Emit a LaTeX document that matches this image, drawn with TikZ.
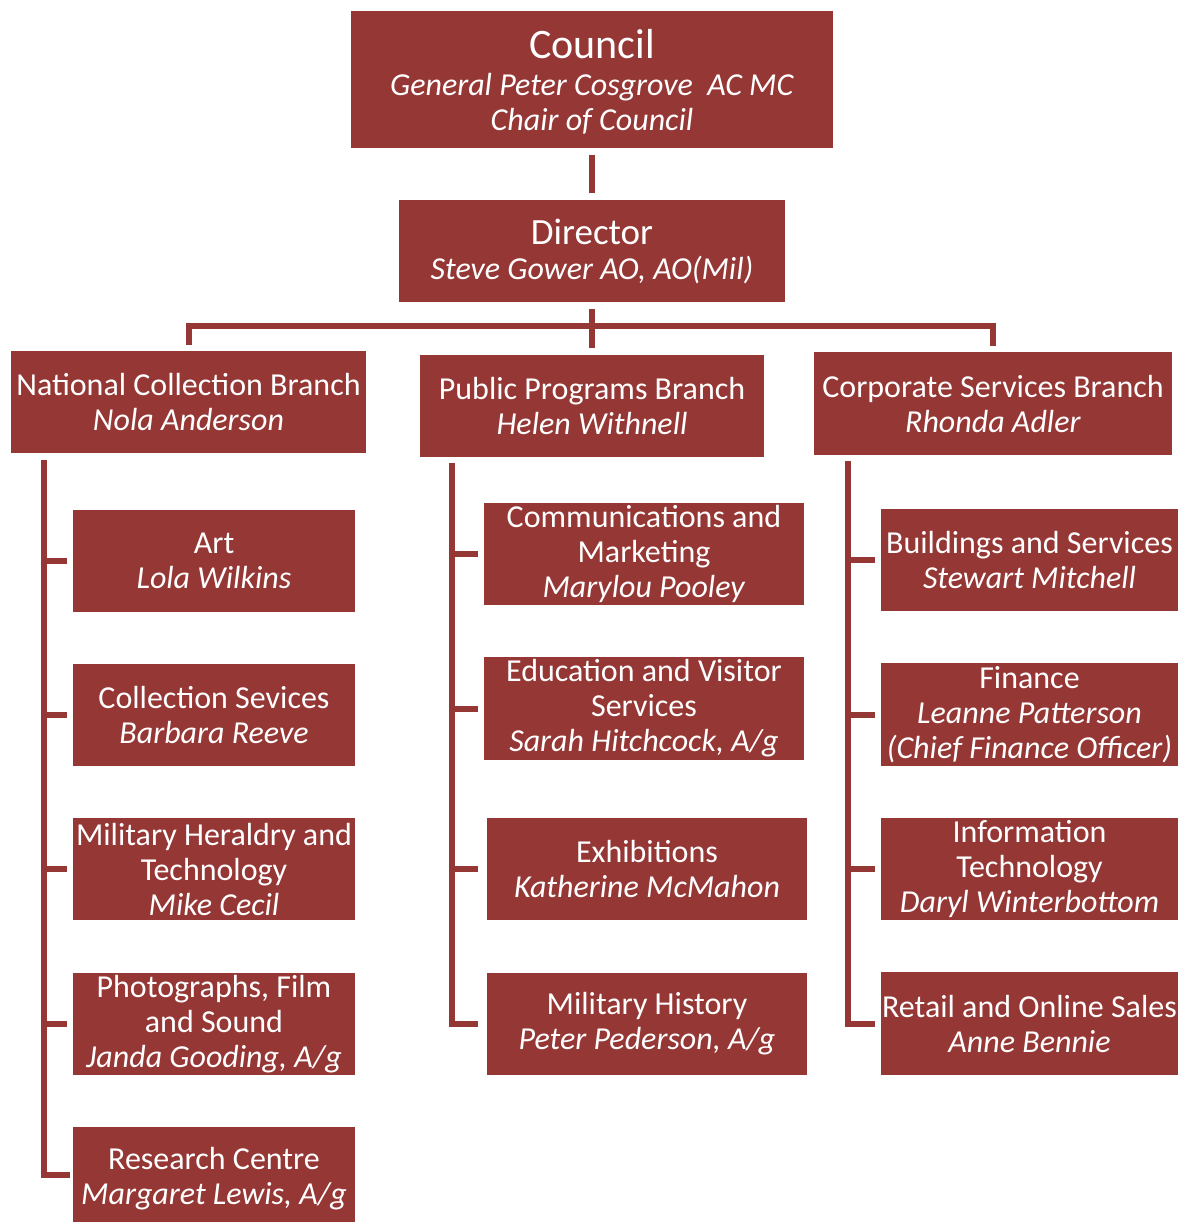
\documentclass[tikz,border=0pt]{standalone}
\usepackage{fontspec}
\setmainfont{Carlito}
\definecolor{boxred}{HTML}{953735}
\begin{document}
\begin{tikzpicture}[x=1pt,y=-1pt,
 bx/.style={fill=boxred, text=white, align=center, inner sep=0pt, font=\fontsize{32}{35}\selectfont},
 conn/.style={draw=boxred, line width=6pt}]
\useasboundingbox (0,0) rectangle (1180,1222);
% top
\node[bx, minimum width=482pt, minimum height=137pt, text depth=-4pt] (council) at (592,79.5)
  {{\fontsize{42}{46}\selectfont Council}\\[2pt] \textit{General Peter Cosgrove\ \ AC MC}\\ \textit{Chair of Council}};
\node[bx, minimum width=386pt, minimum height=102pt] (director) at (592,251)
  {{\fontsize{37}{40}\selectfont Director}\\ \textit{Steve Gower AO, AO(Mil)}};
% branches
\node[bx, minimum width=355pt, minimum height=102pt] (nat) at (188.5,402)
  {National Collection Branch\\ \textit{Nola Anderson}};
\node[bx, minimum width=344pt, minimum height=102pt] (pub) at (592,406)
  {Public Programs Branch\\ \textit{Helen Withnell}};
\node[bx, minimum width=358pt, minimum height=103pt] (corp) at (993,403.5)
  {Corporate Services Branch\\ \textit{Rhonda Adler}};
% left column
\node[bx, minimum width=282pt, minimum height=102pt] (art) at (214,561)
  {Art\\ \textit{Lola Wilkins}};
\node[bx, minimum width=282pt, minimum height=102pt] (coll) at (214,715)
  {Collection Sevices\\ \textit{Barbara Reeve}};
\node[bx, minimum width=282pt, minimum height=102pt] (mil) at (214,869)
  {Military Heraldry and\\ Technology\\ \textit{Mike Cecil}};
\node[bx, minimum width=282pt, minimum height=102pt] (photo) at (214,1024)
  {Photographs, Film\\ and Sound\\ \textit{Janda Gooding, A/g}};
\node[bx, minimum width=282pt, minimum height=103pt] (res) at (214,1178.5)
  {Research Centre\\ \textit{Margaret Lewis, A/g}};
% middle column
\node[bx, minimum width=320pt, minimum height=102pt] (comm) at (644,554)
  {Communications and\\ Marketing\\ \textit{Marylou Pooley}};
\node[bx, minimum width=320pt, minimum height=103pt] (edu) at (644,708.5)
  {Education and Visitor\\ Services\\ \textit{Sarah Hitchcock, A/g}};
\node[bx, minimum width=320pt, minimum height=102pt] (exh) at (647,869)
  {Exhibitions\\ \textit{Katherine McMahon}};
\node[bx, minimum width=320pt, minimum height=102pt] (mh) at (647,1024)
  {Military History\\ \textit{Peter Pederson, A/g}};
% right column
\node[bx, minimum width=297pt, minimum height=102pt] (bld) at (1029.5,560)
  {Buildings and Services\\ \textit{Stewart Mitchell}};
\node[bx, minimum width=297pt, minimum height=103pt] (fin) at (1029.5,714.5)
  {Finance\\ \textit{Leanne Patterson}\\ \textit{(Chief Finance Officer)}};
\node[bx, minimum width=297pt, minimum height=102pt] (it) at (1029.5,869)
  {Information\\ Technology\\ \textit{Daryl Winterbottom}};
\node[bx, minimum width=297pt, minimum height=103pt] (ret) at (1029.5,1023.5)
  {Retail and Online Sales\\ \textit{Anne Bennie}};
% connectors
\draw[conn, shorten <=7pt, shorten >=7pt] (council.south) -- (director.north);
\draw[conn] ([yshift=-7pt]director.south) -- ([yshift=7pt]pub.north);
\coordinate (bus) at (592,326);
\draw[conn] ([yshift=6pt]nat.north) |- (bus) -| ([yshift=6pt]corp.north);
% left
\coordinate (lc) at (44,460);
\draw[conn] (lc) |- ([xshift=-3pt,yshift=4pt]res.west);
\foreach \n in {art,coll,mil,photo} \draw[conn] (lc |- \n.west) -- ([xshift=-6pt]\n.west);
% middle
\coordinate (mc) at (452,463);
\draw[conn] (mc) |- ([xshift=-9pt]mh.west);
\foreach \n in {comm,edu} \draw[conn] (mc |- \n.west) -- ([xshift=-6pt]\n.west);
\draw[conn] (mc |- exh.west) -- ([xshift=-9pt]exh.west);
% right
\coordinate (rc) at (848,461);
\draw[conn] (rc) |- ([xshift=-6pt]ret.west);
\foreach \n in {bld,fin,it} \draw[conn] (rc |- \n.west) -- ([xshift=-6pt]\n.west);
\end{tikzpicture}
\end{document}
